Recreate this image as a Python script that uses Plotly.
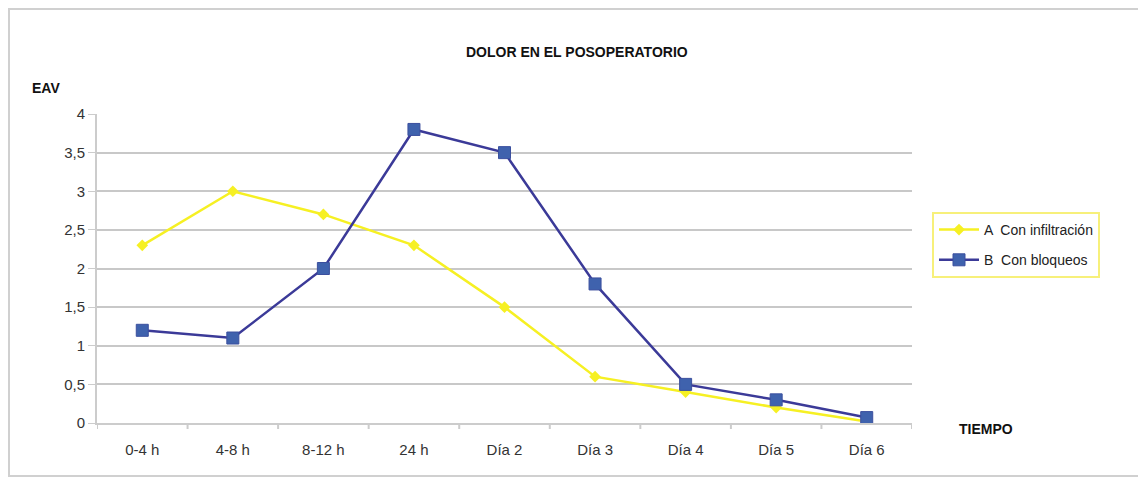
import plotly.graph_objects as go

categories = ["0-4 h", "4-8 h", "8-12 h", "24 h", "Día 2", "Día 3", "Día 4", "Día 5", "Día 6"]
serie_a = [2.3, 3.0, 2.7, 2.3, 1.5, 0.6, 0.4, 0.2, 0.02]
serie_b = [1.2, 1.1, 2.0, 3.8, 3.5, 1.8, 0.5, 0.3, 0.07]
y_ticks = [0, 0.5, 1, 1.5, 2, 2.5, 3, 3.5, 4]
y_tick_labels = ["0", "0,5", "1", "1,5", "2", "2,5", "3", "3,5", "4"]

# page has an 8px body margin, so figure coords = page coords - 8
OFF = 8
W, H = 1146, 481
PL, PR, PT, PB = 97, 912, 114, 423  # plot area in page coordinates
L, R, T, B = PL - OFF, W - (PR - OFF), PT - OFF, H - (PB - OFF)
pw, ph = PR - PL, PB - PT


def px(x):
    return (x - PL) / pw


def py(y):
    return (PB - y) / ph


fig = go.Figure()
fig.add_trace(go.Scatter(
    x=categories, y=serie_a, mode="lines+markers", name="A  Con infiltración",
    legendgroup="a",
    line=dict(color="#f6f023", width=2.5),
    marker=dict(symbol="diamond", size=9, color="#f6f023"),
))
fig.add_trace(go.Scatter(
    x=categories, y=serie_b, mode="lines+markers", name="B  Con bloqueos",
    legendgroup="b",
    line=dict(color="#3b3a98", width=2.5),
    marker=dict(symbol="square", size=12, color="#3f62ad", line=dict(color="#3b4f9e", width=1)),
))

ann_font = dict(size=14, color="#111111")
fig.update_layout(
    width=W, height=H,
    margin=dict(l=L, r=R, t=T, b=B),
    paper_bgcolor="white", plot_bgcolor="white",
    font=dict(family="Liberation Sans, Arial, sans-serif", size=15, color="#333333"),
    showlegend=True,
    legend=dict(
        x=px(932), y=py(212), xanchor="left", yanchor="top",
        bordercolor="#f7f07a", borderwidth=2, bgcolor="white",
        font=dict(size=14, color="#222222"),
        itemwidth=40, traceorder="grouped", tracegroupgap=9,
    ),
    xaxis=dict(
        type="category", range=[-0.5, 8.5], showgrid=False,
        showline=True, linecolor="#cccccc", linewidth=2,
        ticks="", ticklabelstandoff=12,
        tickfont=dict(size=15, color="#333333"),
    ),
    yaxis=dict(
        range=[0, 4], tickvals=y_ticks, ticktext=y_tick_labels,
        showgrid=True, gridcolor="#c8c8c8", gridwidth=1.5,
        showline=True, linecolor="#cccccc", linewidth=2,
        ticks="outside", ticklen=7, tickcolor="#cccccc",
        zeroline=False, tickfont=dict(size=15, color="#333333"),
    ),
    annotations=[
        dict(text="<b>DOLOR EN EL POSOPERATORIO</b>", x=px(577), y=py(52), xref="paper", yref="paper",
             xanchor="center", yanchor="middle", showarrow=False, font=ann_font),
        dict(text="<b>EAV</b>", x=px(46), y=py(88), xref="paper", yref="paper",
             xanchor="center", yanchor="middle", showarrow=False, font=ann_font),
        dict(text="<b>TIEMPO</b>", x=px(986), y=py(429), xref="paper", yref="paper",
             xanchor="center", yanchor="middle", showarrow=False, font=ann_font),
    ],
    shapes=[
        dict(type="rect", xref="paper", yref="paper", x0=px(9), x1=px(1141), y0=py(476), y1=py(9),
             line=dict(color="#d0d0d0", width=2), layer="below"),
    ],
)

# x-axis boundary tick marks
for i in range(10):
    fig.add_shape(type="line", xref="x", yref="paper", x0=i - 0.5, x1=i - 0.5,
                  y0=0, y1=-6 / ph, line=dict(color="#cccccc", width=2))

fig.write_html("out.html")
